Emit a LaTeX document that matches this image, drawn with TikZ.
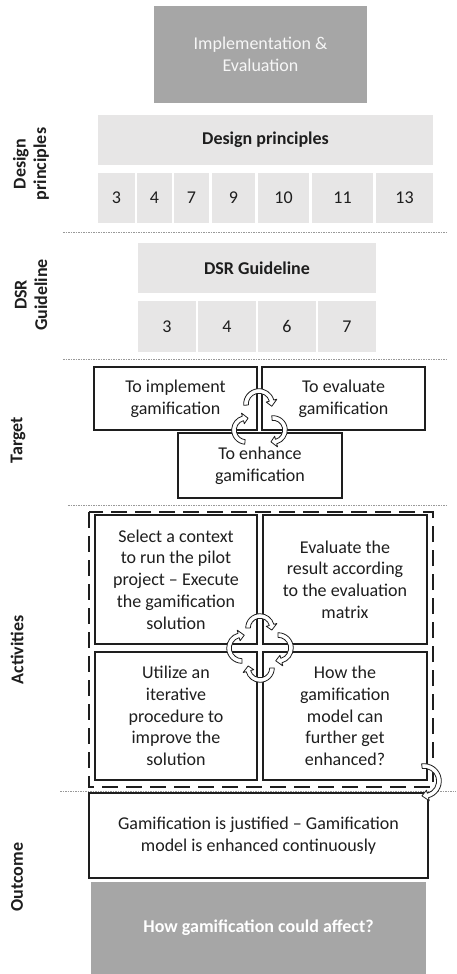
\documentclass[tikz,border=0pt]{standalone}
\usepackage{fontspec}
\setmainfont{Carlito}
\definecolor{darkg}{HTML}{A6A6A6}
\definecolor{lightg}{HTML}{E7E6E6}
\definecolor{ink}{HTML}{1E1E1E}
\tikzset{
  bodyfont/.style={font=\fontsize{18}{21.7}\selectfont},
  boldfont/.style={font=\fontsize{18}{21.7}\selectfont\bfseries},
  darkbox/.style={fill=darkg, inner sep=0pt, align=center, bodyfont},
  lightbox/.style={fill=lightg, inner sep=0pt, align=center, text=ink, bodyfont},
  wbox/.style={draw=ink, line width=1.2pt, fill=white, inner sep=0pt, align=center, text=ink, bodyfont},
  sidelabel/.style={rotate=90, align=center, text=ink, font=\fontsize{18}{20.5}\selectfont\bfseries},
  sepline/.style={draw=gray!80, line width=0.8pt, dash pattern=on 1.5pt off 1pt},
  dashbox/.style={draw=ink, line width=1.2pt, dash pattern=on 16pt off 8pt},
  cyc/.style={draw=ink, line width=0.8pt, fill=white, line join=round}
}
\newcommand\cyarr[6]{%
  \begin{scope}[shift={(#1,#2)}]
    \draw[cyc] (#4:#3+2.3) arc[start angle=#4, end angle=#5, radius=#3+2.3]
      -- (#5:#3+5.5) -- (#6:#3) -- (#5:#3-5.5) -- (#5:#3-2.3)
      arc[start angle=#5, end angle=#4, radius=#3-2.3] -- cycle;
  \end{scope}}
\begin{document}
\begin{tikzpicture}[x=1pt, y=-1pt]
\useasboundingbox (0,0) rectangle (456,974);

% top
\node[darkbox, minimum width=213pt, minimum height=97pt, text=white!90!darkg] (impl) at (260.5,54.5) {Implementation \&\\Evaluation};

% Design principles
\node[lightbox, minimum width=335pt, minimum height=50pt, boldfont] (dph) at (265.5,140) {Design principles};
\foreach \n/\cx/\w in {a/116.5/37, b/154.5/35, c/191.5/35, d/233.5/43, e/283.5/51, f/342.5/61, g/404.5/57}{
  \node[lightbox, minimum width=\w pt, minimum height=50pt] (dp\n) at (\cx,198) {};
}
\node at (dpa) [text=ink, bodyfont] {3};
\node at (dpb) [text=ink, bodyfont] {4};
\node at (dpc) [text=ink, bodyfont] {7};
\node at (dpd) [text=ink, bodyfont] {9};
\node at (dpe) [text=ink, bodyfont] {10};
\node at (dpf) [text=ink, bodyfont] {11};
\node at (dpg) [text=ink, bodyfont] {13};
\node[sidelabel] (ldp) at (31,164) {Design\\principles};

\coordinate (s1a) at (63,232); \coordinate (s1b) at (447,232);
\draw[sepline] (s1a) -- (s1b);

% DSR
\node[lightbox, minimum width=238pt, minimum height=50pt, boldfont] (dsrh) at (257,268) {DSR Guideline};
\node[lightbox, minimum width=58pt, minimum height=51pt] (ds1) at (167,326.5) {3};
\node[lightbox, minimum width=58pt, minimum height=51pt] (ds2) at (227,326.5) {4};
\node[lightbox, minimum width=58pt, minimum height=51pt] (ds3) at (287,326.5) {6};
\node[lightbox, minimum width=58pt, minimum height=51pt] (ds4) at (347,326.5) {7};
\node[sidelabel] (ldsr) at (31,295) {DSR\\Guideline};

\coordinate (s2a) at (63,359); \coordinate (s2b) at (447,359);
\draw[sepline] (s2a) -- (s2b);

% Target
\node[wbox, minimum width=163pt, minimum height=63pt] (t1) at (175.5,398.5) {To implement\\gamification};
\node[wbox, minimum width=163pt, minimum height=63pt] (t2) at (343.5,398.5) {To evaluate\\gamification};
\node[wbox, minimum width=164pt, minimum height=65pt] (t3) at (260,465.5) {To enhance\\gamification};
\node[sidelabel] (ltg) at (18,440) {Target};
\cyarr{259}{404}{13}{175}{345}{370}
\cyarr{273}{430}{12}{265}{435}{460}
\cyarr{246}{430}{12}{95}{255}{280}

\coordinate (s3a) at (68,505); \coordinate (s3b) at (447,505);
\draw[sepline] (s3a) -- (s3b);

% Activities
\draw[dashbox] (89,512) rectangle (433,787);
\node[wbox, minimum width=162pt, minimum height=129pt] (a1) at (176,579.5) {Select a context\\to run the pilot\\project -- Execute\\the gamification\\solution};
\node[wbox, minimum width=164pt, minimum height=129pt] (a2) at (345,579.5) {Evaluate the\\result according\\to the evaluation\\matrix};
\node[wbox, minimum width=162pt, minimum height=128pt] (a3) at (176,716) {Utilize an\\iterative\\procedure to\\improve the\\solution};
\node[wbox, minimum width=164pt, minimum height=128pt] (a4) at (345,716) {How the\\gamification\\model can\\further get\\enhanced?};
\node[sidelabel] (lac) at (17,650) {Activities};
\cyarr{260}{628}{12}{180}{345}{370}
\cyarr{278}{648}{13}{270}{435}{460}
\cyarr{260}{668}{12}{0}{165}{190}
\cyarr{242}{648}{13}{90}{255}{280}

\coordinate (s4a) at (60,791); \coordinate (s4b) at (456,791);
\draw[sepline] (s4a) -- (s4b);

% Outcome
\node[wbox, minimum width=339pt, minimum height=85pt] (oc) at (258.5,835.5) {Gamification is justified -- Gamification\\model is enhanced continuously};
\cyarr{424}{781}{15}{262}{435}{458}
\node[darkbox, minimum width=335pt, minimum height=92pt, text=white, boldfont] (how) at (258.5,928) {How gamification could affect?};
\node[sidelabel] (lout) at (17,877) {Outcome};
\end{tikzpicture}
\end{document}
